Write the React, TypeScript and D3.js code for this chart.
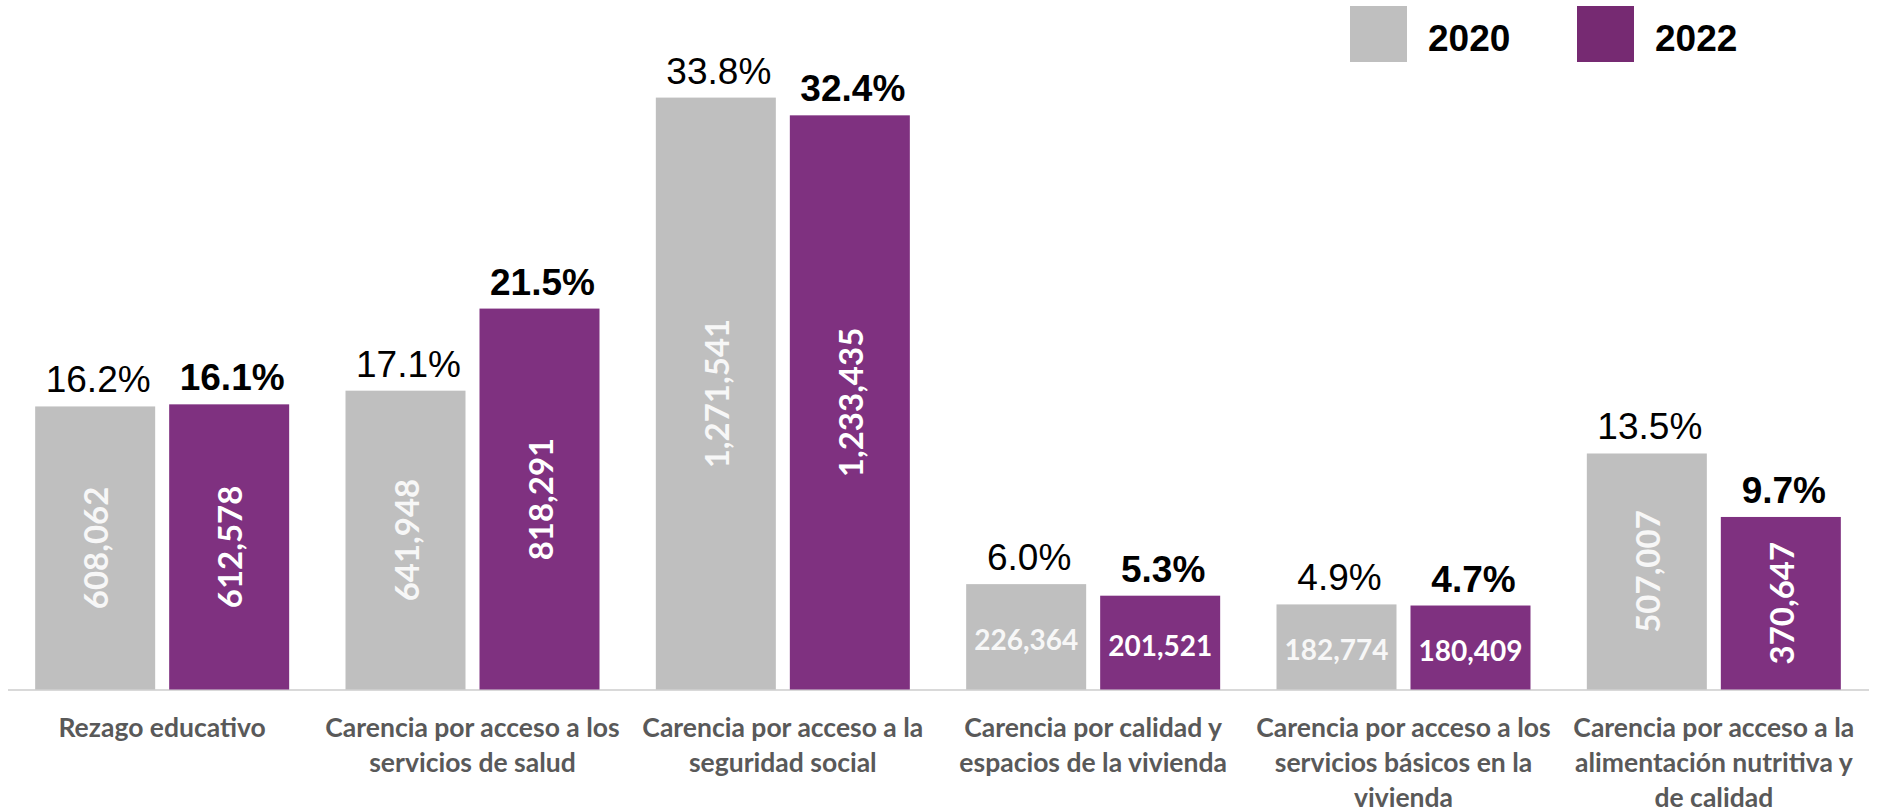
import React from 'react';
import * as d3 from 'd3';

const WIDTH = 1883;
const HEIGHT = 812;

const categories = [
  'Rezago educativo',
  'Carencia por acceso a los servicios de salud',
  'Carencia por acceso a la seguridad social',
  'Carencia por calidad y espacios de la vivienda',
  'Carencia por acceso a los servicios básicos en la vivienda',
  'Carencia por acceso a la alimentación nutritiva y de calidad',
];

// wrapped lines of the category labels, as in the picture
const categoryLines = [
  ['Rezago educativo'],
  ['Carencia por acceso a los', 'servicios de salud'],
  ['Carencia por acceso a la', 'seguridad social'],
  ['Carencia por calidad y', 'espacios de la vivienda'],
  ['Carencia por acceso a los', 'servicios básicos en la', 'vivienda'],
  ['Carencia por acceso a la', 'alimentación nutritiva y', 'de calidad'],
];

const years = ['2020', '2022'];
const people2020 = [608062, 641948, 1271541, 226364, 182774, 507007];
const people2022 = [612578, 818291, 1233435, 201521, 180409, 370647];
const pct2020 = [16.2, 17.1, 33.8, 6.0, 4.9, 13.5];
const pct2022 = [16.1, 21.5, 32.4, 5.3, 4.7, 9.7];

const COLORS: Record<string, string> = { '2020': '#bfbfbf', '2022': '#7f3180' };
const LEGEND_COLORS: Record<string, string> = { '2020': '#bfbfbf', '2022': '#762a72' };
const INNER_COLORS: Record<string, string> = { '2020': '#f7f7f7', '2022': '#ffffff' };

const BASELINE = 689.5;
const fmtPeople = d3.format(',');
const fmtPct = (v: number) => d3.format('.1f')(v) + '%';

export default function App() {
  const x0 = d3.scaleBand<string>().domain(categories).range([7, 1869]).paddingInner(0).paddingOuter(0);
  const step = x0.bandwidth();
  const inner = 254;
  const x1 = d3
    .scaleBand<string>()
    .domain(years)
    .range([(step - inner) / 2, (step + inner) / 2])
    .paddingInner(14 / 134)
    .paddingOuter(0);

  const y = d3.scaleLinear().domain([0, 1400000]).range([BASELINE, BASELINE - 1400000 * 4.655e-4]);

  const rows = categories.map((c, i) => ({
    category: c,
    lines: categoryLines[i],
    bars: [
      { year: '2020', people: people2020[i], pct: pct2020[i] },
      { year: '2022', people: people2022[i], pct: pct2022[i] },
    ],
  }));

  return (
    <div style={{ position: 'absolute', left: 0, top: 0 }}>
      <svg width={WIDTH} height={HEIGHT} style={{ display: 'block', background: '#fff' }}>
        {/* legend */}
        {years.map((yr, i) => {
          const lx = 1350 + i * 227;
          return (
            <g key={yr}>
              <rect x={lx} y={6} width={57} height={56} fill={LEGEND_COLORS[yr]} />
              <text
                x={lx + 78}
                y={51}
                fontFamily="'Liberation Sans', Arial, sans-serif"
                fontWeight="bold"
                fontSize={37}
                fill="#000"
              >
                {yr}
              </text>
            </g>
          );
        })}

        {/* axis line */}
        <line x1={8} x2={1869} y1={BASELINE + 0.5} y2={BASELINE + 0.5} stroke="#d9d9d9" strokeWidth={2} />

        {rows.map((row) => {
          const gx = x0(row.category) as number;
          return (
            <g key={row.category} transform={`translate(${gx},0)`}>
              {row.bars.map((b) => {
                const bx = x1(b.year) as number;
                const bw = x1.bandwidth();
                const top = y(b.people);
                const h = BASELINE - top;
                const cx = bx + bw / 2;
                const cy = top + h / 2;
                const vertical = h > 150;
                return (
                  <g key={b.year}>
                    <rect x={bx} y={top} width={bw} height={h} fill={COLORS[b.year]} />
                    <text
                      x={cx + 3}
                      y={top - 14}
                      textAnchor="middle"
                      fontFamily="'Liberation Sans', Arial, sans-serif"
                      fontWeight={b.year === '2022' ? 'bold' : 'normal'}
                      fontSize={37}
                      fill="#000"
                    >
                      {fmtPct(b.pct)}
                    </text>
                    {vertical ? (
                      <text
                        transform={`translate(${cx},${cy}) rotate(-90)`}
                        textAnchor="middle"
                        dominantBaseline="central"
                        fontFamily="Lato, 'Open Sans', sans-serif"
                        fontWeight="bold"
                        fontSize={33}
                        fill={INNER_COLORS[b.year]}
                      >
                        {fmtPeople(b.people)}
                      </text>
                    ) : (
                      <text
                        x={cx}
                        y={cy + 2}
                        textAnchor="middle"
                        dominantBaseline="central"
                        fontFamily="Lato, 'Open Sans', sans-serif"
                        fontWeight="bold"
                        fontSize={28}
                        fill={INNER_COLORS[b.year]}
                      >
                        {fmtPeople(b.people)}
                      </text>
                    )}
                  </g>
                );
              })}
              <text
                textAnchor="middle"
                fontFamily="Lato, 'Open Sans', sans-serif"
                fontWeight="bold"
                fontSize={26.5}
                fill="#595959"
              >
                {row.lines.map((ln, k) => (
                  <tspan key={k} x={step / 2} y={737 + k * 35}>
                    {ln}
                  </tspan>
                ))}
              </text>
            </g>
          );
        })}
      </svg>
    </div>
  );
}
